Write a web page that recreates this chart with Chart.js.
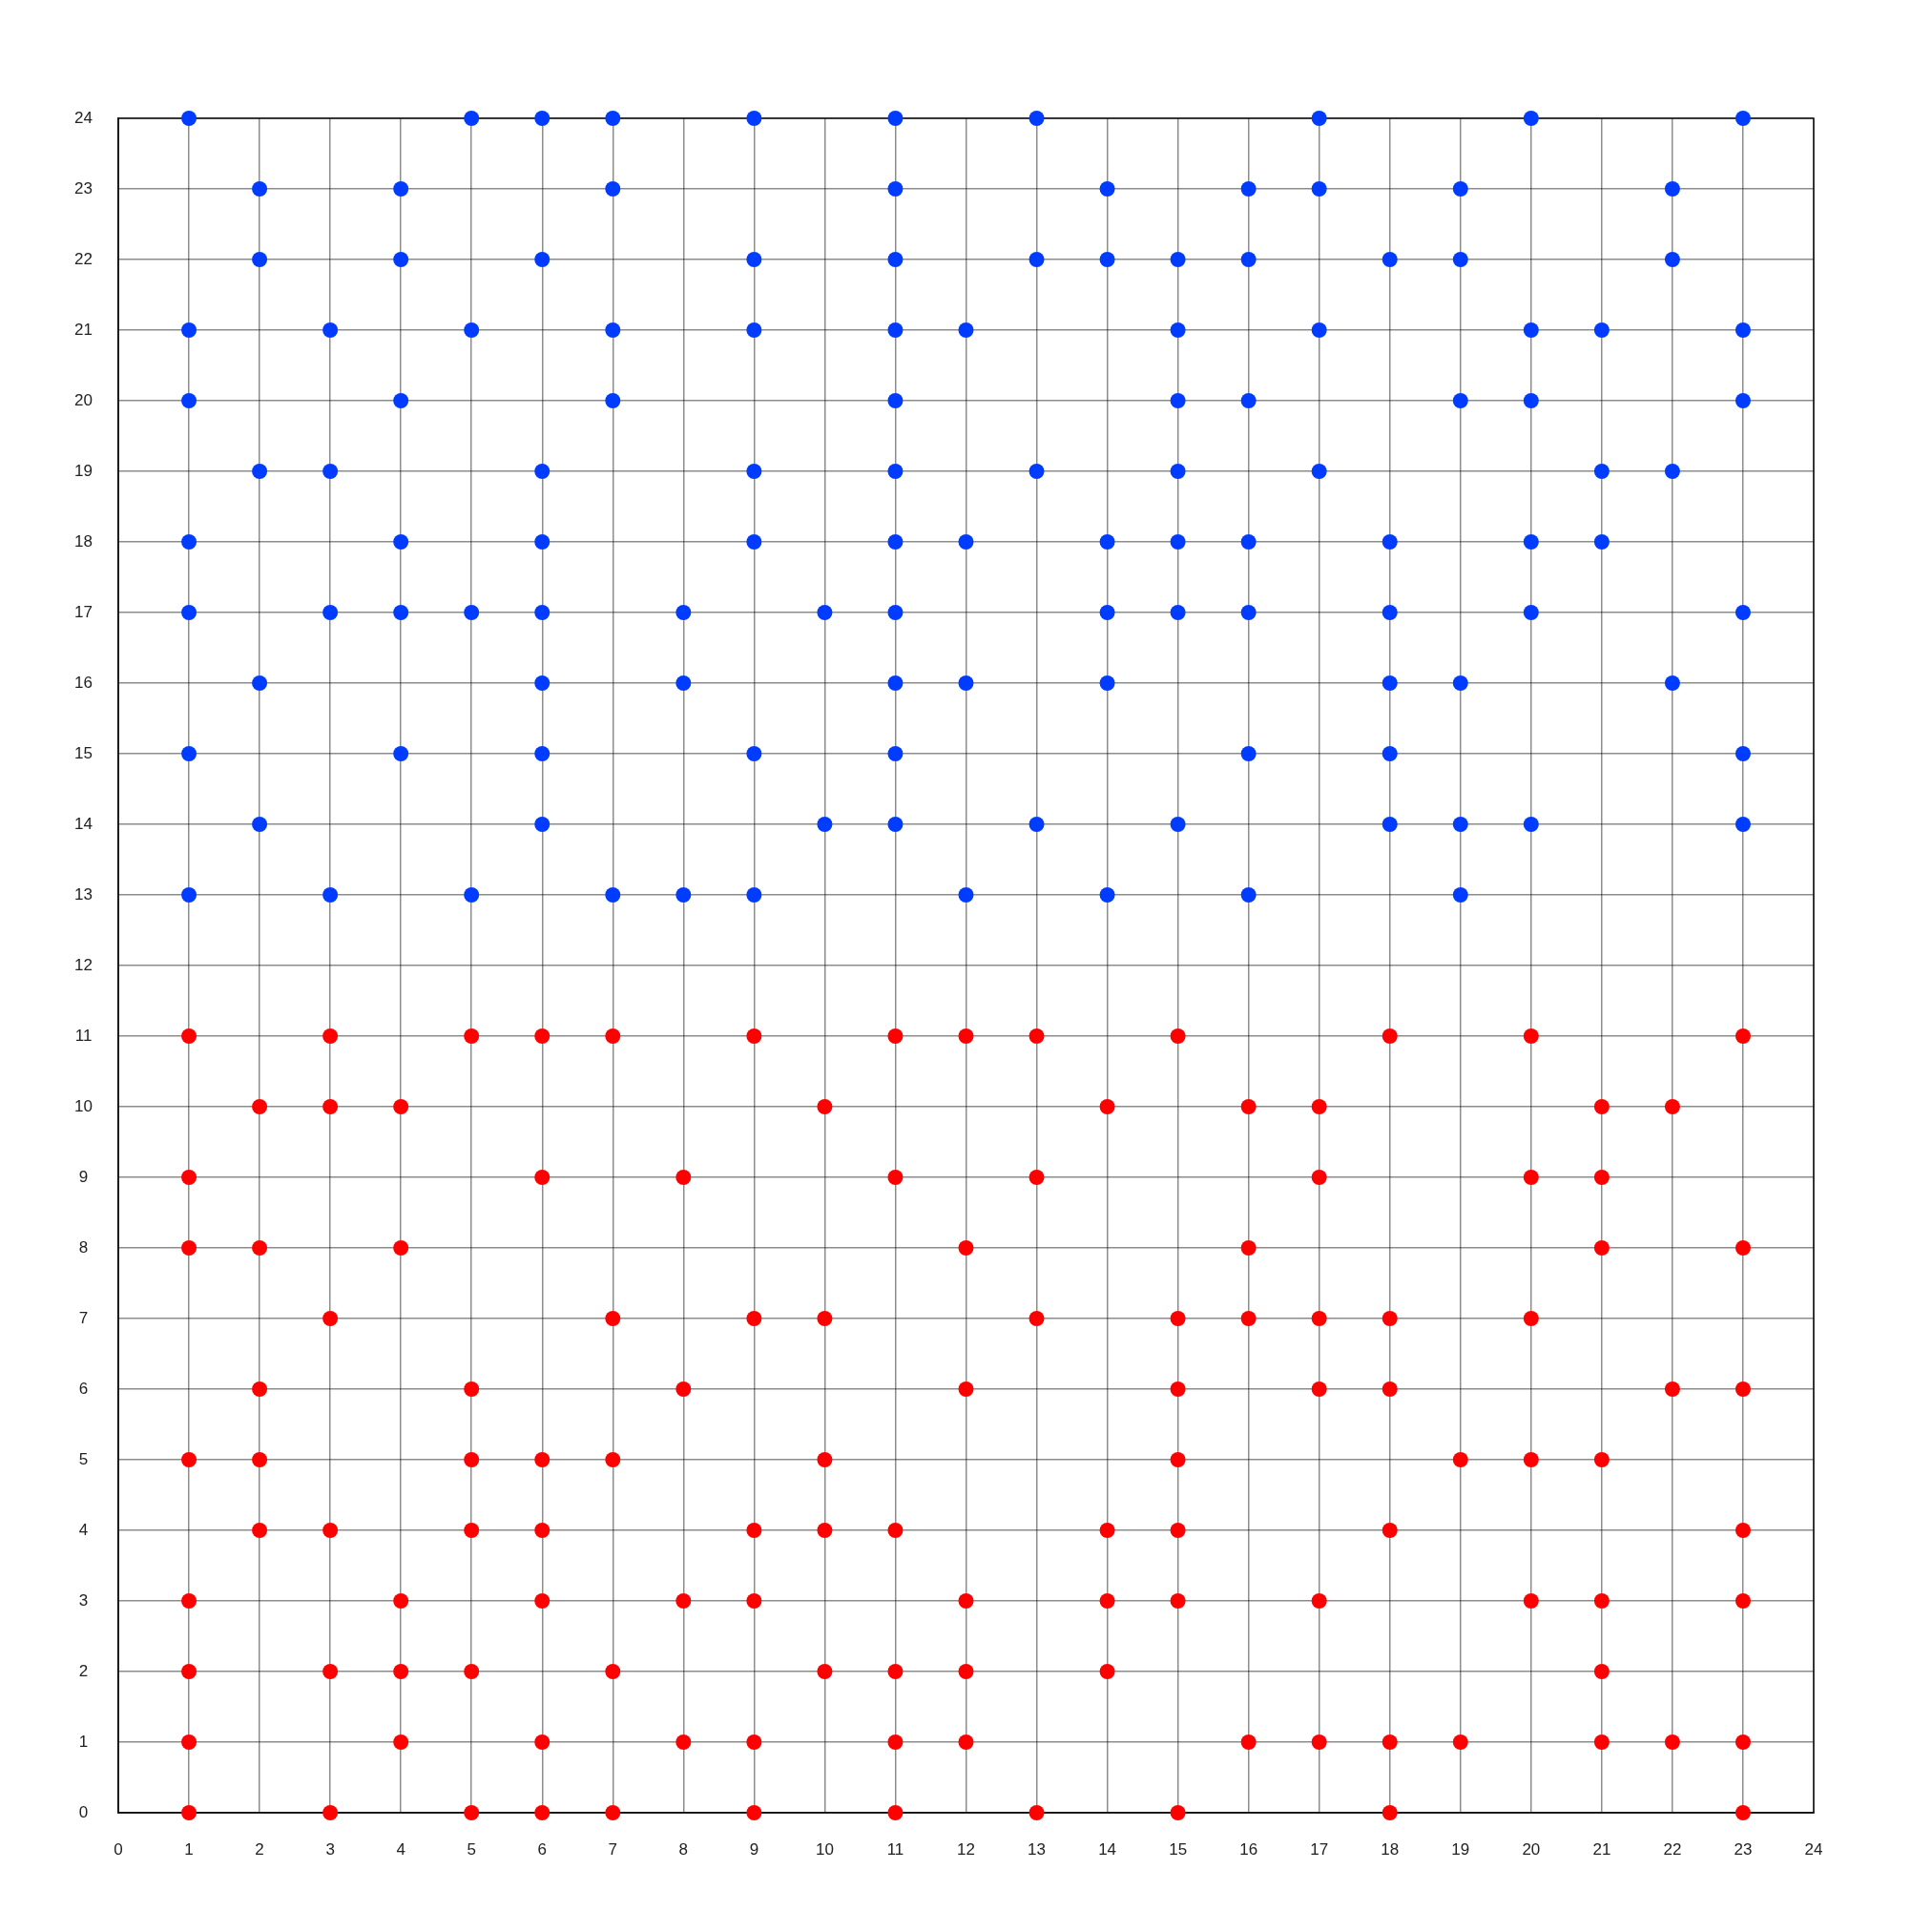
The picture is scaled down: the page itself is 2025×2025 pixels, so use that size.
<!DOCTYPE html>
<html>
<head>
<meta charset="utf-8">
<script src="https://cdn.jsdelivr.net/npm/chart.js@4.4.1/dist/chart.umd.min.js"></script>
<style>
  html, body { margin: 0; padding: 0; background: #fff; }
  #wrap { width: 2025px; height: 2025px; }
</style>
</head>
<body>
<div id="wrap"><canvas id="grid" width="2025" height="2025"></canvas></div>
<script>
// ── Dados ────────────────────────────────────────────────────────────────────
const xTicks = [0,1,2,3,4,5,6,7,8,9,10,11,12,13,14,15,16,17,18,19,20,21,22,23,24];
const yTicks = xTicks;

// linhas azuis: valor de y e os x marcados nessa linha
const blueRowY = [24, 23, 22, 21, 20, 19, 18, 17, 16, 15, 14, 13];
const blueRowX = [
    [1, 5, 6, 7, 9, 11, 13, 17, 20, 23],
    [2, 4, 7, 11, 14, 16, 17, 19, 22],
    [2, 4, 6, 9, 11, 13, 14, 15, 16, 18, 19, 22],
    [1, 3, 5, 7, 9, 11, 12, 15, 17, 20, 21, 23],
    [1, 4, 7, 11, 15, 16, 19, 20, 23],
    [2, 3, 6, 9, 11, 13, 15, 17, 21, 22],
    [1, 4, 6, 9, 11, 12, 14, 15, 16, 18, 20, 21],
    [1, 3, 4, 5, 6, 8, 10, 11, 14, 15, 16, 18, 20, 23],
    [2, 6, 8, 11, 12, 14, 18, 19, 22],
    [1, 4, 6, 9, 11, 16, 18, 23],
    [2, 6, 10, 11, 13, 15, 18, 19, 20, 23],
    [1, 3, 5, 7, 8, 9, 12, 14, 16, 19],
];

// linhas vermelhas
const redRowY = [11, 10, 9, 8, 7, 6, 5, 4, 3, 2, 1, 0];
const redRowX = [
    [1, 3, 5, 6, 7, 9, 11, 12, 13, 15, 18, 20, 23],
    [2, 3, 4, 10, 14, 16, 17, 21, 22],
    [1, 6, 8, 11, 13, 17, 20, 21],
    [1, 2, 4, 12, 16, 21, 23],
    [3, 7, 9, 10, 13, 15, 16, 17, 18, 20],
    [2, 5, 8, 12, 15, 17, 18, 22, 23],
    [1, 2, 5, 6, 7, 10, 15, 19, 20, 21],
    [2, 3, 5, 6, 9, 10, 11, 14, 15, 18, 23],
    [1, 4, 6, 8, 9, 12, 14, 15, 17, 20, 21, 23],
    [1, 3, 4, 5, 7, 10, 11, 12, 14, 21],
    [1, 4, 6, 8, 9, 11, 12, 16, 17, 18, 19, 21, 22, 23],
    [1, 3, 5, 6, 7, 9, 11, 13, 15, 18, 23],
];

// ── Helpers ──────────────────────────────────────────────────────────────────
function toPoints(rowY, rowX) {
    const pts = [];
    rowY.forEach((y, i) => rowX[i].forEach(x => pts.push({ x, y })));
    return pts;
}

// moldura preta em volta da área do gráfico (por baixo dos pontos)
const frame = {
    id: 'frame',
    beforeDatasetsDraw(chart) {
        const { ctx, chartArea: a } = chart;
        ctx.save();
        ctx.strokeStyle = '#111';
        ctx.lineWidth = 1.5;
        ctx.strokeRect(a.left, a.top, a.right - a.left, a.bottom - a.top);
        ctx.restore();
    }
};

const tickFont = { family: '"Liberation Sans", Arial, sans-serif', size: 17 };
const gridStyle = { color: 'rgba(0,0,0,0.45)', lineWidth: 1.5, drawTicks: false };

// ── Gráfico ──────────────────────────────────────────────────────────────────
new Chart(document.getElementById('grid'), {
    type: 'scatter',
    data: {
        datasets: [
            {
                data: toPoints(blueRowY, blueRowX),
                backgroundColor: '#003cff',
                borderWidth: 0,
                pointRadius: 8,
                pointHoverRadius: 8,
                clip: false,
            },
            {
                data: toPoints(redRowY, redRowX),
                backgroundColor: '#ff0000',
                borderWidth: 0,
                pointRadius: 8,
                pointHoverRadius: 8,
                clip: false,
            }
        ]
    },
    options: {
        responsive: false,
        animation: false,
        events: [],
        layout: { padding: { top: 124, right: 124, left: 0, bottom: 0 } },
        plugins: { legend: { display: false }, tooltip: { enabled: false } },
        scales: {
            x: {
                type: 'linear',
                min: 0,
                max: 24,
                afterFit: (s) => { s.height = 125; },
                afterBuildTicks: (s) => { s.ticks = xTicks.map(v => ({ value: v })); },
                grid: gridStyle,
                border: { color: '#111', width: 1.5 },
                ticks: { font: tickFont, color: '#222', padding: 29, maxRotation: 0, autoSkip: false }
            },
            y: {
                type: 'linear',
                min: 0,
                max: 24,
                afterFit: (s) => { s.width = 124; },
                afterBuildTicks: (s) => { s.ticks = yTicks.map(v => ({ value: v })); },
                grid: gridStyle,
                border: { color: '#111', width: 1.5 },
                ticks: { font: tickFont, color: '#222', padding: 27, crossAlign: 'center', autoSkip: false }
            }
        }
    },
    plugins: [frame]
});
</script>
</body>
</html>
